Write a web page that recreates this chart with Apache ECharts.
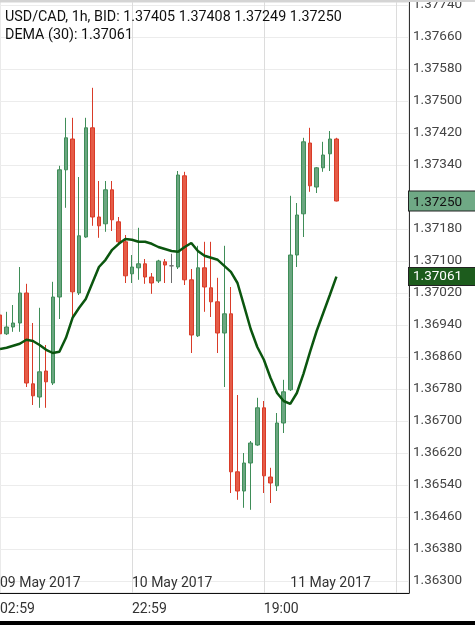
<!DOCTYPE html>
<html>
<head>
<meta charset="utf-8">
<script src="https://cdn.jsdelivr.net/npm/echarts@6/dist/echarts.min.js"></script>
<style>
  html, body { margin: 0; padding: 0; background: #fff; }
  #chart { width: 475px; height: 625px; }
</style>
</head>
<body>
<div id="chart"></div>
<script>
// hourly slots, the right end is left empty like the terminal does
const categories = [
  '02:59', '03:59', '04:59', '05:59', '06:59', '07:59', '08:59', '09:59', '10:59', '11:59',
  '12:59', '13:59', '14:59', '15:59', '16:59', '17:59', '18:59', '19:59', '20:59', '21:59',
  '22:59', '23:59', '00:59', '01:59', '02:59', '03:59', '04:59', '05:59', '06:59', '07:59',
  '08:59', '09:59', '10:59', '11:59', '12:59', '13:59', '14:59', '15:59', '16:59', '17:59',
  '19:00', '20:00', '21:00', '22:00', '23:00', '00:00', '01:00', '02:00', '03:00', '04:00',
  '05:00', '06:00', '07:00', '08:00', '09:00', '10:00', '11:00', '12:00', '13:00', '14:00',
  '15:00', '16:00', '17:00'
];

// [open, close, low, high]
const candles = [
  [1.36965, 1.36918, 1.36908, 1.36985],
  [1.36918, 1.36935, 1.36915, 1.36973],
  [1.36935, 1.36945, 1.36923, 1.36990],
  [1.36945, 1.37020, 1.36923, 1.37085],
  [1.37020, 1.36795, 1.36785, 1.37043],
  [1.36793, 1.36763, 1.36740, 1.36945],
  [1.36760, 1.36823, 1.36733, 1.36983],
  [1.36825, 1.36798, 1.36733, 1.36890],
  [1.36795, 1.37010, 1.36790, 1.37048],
  [1.37010, 1.37328, 1.36955, 1.37338],
  [1.37328, 1.37408, 1.37233, 1.37458],
  [1.37405, 1.37023, 1.36960, 1.37458],
  [1.37020, 1.37163, 1.37015, 1.37310],
  [1.37160, 1.37433, 1.37158, 1.37458],
  [1.37433, 1.37210, 1.37188, 1.37533],
  [1.37210, 1.37188, 1.37158, 1.37300],
  [1.37193, 1.37278, 1.37173, 1.37300],
  [1.37278, 1.37203, 1.37175, 1.37300],
  [1.37198, 1.37148, 1.37145, 1.37210],
  [1.37148, 1.37063, 1.37045, 1.37165],
  [1.37068, 1.37085, 1.37045, 1.37115],
  [1.37083, 1.37093, 1.37053, 1.37183],
  [1.37093, 1.37060, 1.37043, 1.37105],
  [1.37060, 1.37045, 1.37018, 1.37070],
  [1.37050, 1.37100, 1.37045, 1.37103],
  [1.37098, 1.37090, 1.37045, 1.37105],
  [1.37088, 1.37088, 1.37045, 1.37118],
  [1.37085, 1.37315, 1.37080, 1.37325],
  [1.37313, 1.37053, 1.37040, 1.37323],
  [1.37053, 1.36915, 1.36870, 1.37080],
  [1.36913, 1.37083, 1.36910, 1.37138],
  [1.37083, 1.37035, 1.36973, 1.37148],
  [1.37033, 1.36998, 1.36960, 1.37148],
  [1.36998, 1.36920, 1.36870, 1.37058],
  [1.36920, 1.36968, 1.36785, 1.37138],
  [1.36968, 1.36573, 1.36520, 1.37035],
  [1.36573, 1.36525, 1.36503, 1.36765],
  [1.36525, 1.36595, 1.36483, 1.36620],
  [1.36595, 1.36645, 1.36478, 1.36650],
  [1.36640, 1.36733, 1.36638, 1.36758],
  [1.36733, 1.36563, 1.36520, 1.36750],
  [1.36560, 1.36545, 1.36495, 1.36583],
  [1.36538, 1.36695, 1.36525, 1.36720],
  [1.36695, 1.36773, 1.36670, 1.36803],
  [1.36778, 1.37115, 1.36775, 1.37263],
  [1.37115, 1.37215, 1.37085, 1.37245],
  [1.37218, 1.37398, 1.37160, 1.37408],
  [1.37395, 1.37288, 1.37273, 1.37433],
  [1.37285, 1.37333, 1.37270, 1.37335],
  [1.37333, 1.37365, 1.37323, 1.37398],
  [1.37368, 1.37405, 1.37325, 1.37425],
  [1.37405, 1.37250, 1.37249, 1.37408]
];

const dema = [
  1.36880, 1.36883, 1.36888, 1.36893, 1.36903, 1.36900, 1.36890, 1.36878, 1.36870, 1.36873,
  1.36908, 1.36958, 1.36983, 1.37005, 1.37045, 1.37085, 1.37103, 1.37128, 1.37143, 1.37155,
  1.37153, 1.37148, 1.37148, 1.37143, 1.37135, 1.37130, 1.37125, 1.37123, 1.37135, 1.37145,
  1.37125, 1.37113, 1.37108, 1.37103, 1.37088, 1.37073, 1.37045, 1.36988, 1.36930, 1.36885,
  1.36853, 1.36808, 1.36770, 1.36750, 1.36743, 1.36770, 1.36818, 1.36873, 1.36925, 1.36970,
  1.37015, 1.37061
];

const priceTicks = [
  1.36300, 1.36380, 1.36460, 1.36540, 1.36620, 1.36700, 1.36780, 1.36860, 1.36940, 1.37020,
  1.37100, 1.37180, 1.37260, 1.37340, 1.37420, 1.37500, 1.37580, 1.37660, 1.37740
];
const timeTicks = { 0: '02:59', 20: '22:59', 40: '19:00' };
const dateTicks = { 0: '09 May 2017', 20: '10 May 2017', 44: '11 May 2017' };
const gridCols = [20, 40, 60];

const bidText = 'USD/CAD, 1h, BID: 1.37405 1.37408 1.37249 1.37250';
const demaText = 'DEMA (30): 1.37061';
const lastBid = 1.37250;
const lastDema = 1.37061;

const font = 'Roboto, "Noto Sans", sans-serif';
const yMin = 1.3627;
const yMax = 1.377475;

const boxStyle = (bg, fg, pad) => ({
  backgroundColor: bg,
  borderColor: '#222',
  borderWidth: 1,
  color: fg,
  fontSize: 13.5,
  fontFamily: font,
  padding: pad,
  width: 58,
  lineHeight: 14
});

const myChart = echarts.init(document.getElementById('chart'));
myChart.setOption({
  animation: false,
  textStyle: { fontFamily: font },
  title: {
    text: bidText + '\n' + demaText,
    left: 5,
    top: 8,
    padding: 0,
    textStyle: { fontSize: 14.3, fontWeight: 'normal', color: '#111', lineHeight: 18, fontFamily: font }
  },
  grid: {
    left: 0,
    right: 66,
    top: 2,
    bottom: 32,
    outerBoundsMode: 'none',
    containLabel: false,
    show: true,
    borderColor: '#d6d6d6',
    borderWidth: 1
  },
  xAxis: [
    {
      type: 'category',
      data: categories,
      boundaryGap: false,
      position: 'bottom',
      axisLine: { lineStyle: { color: '#111', width: 1 } },
      axisTick: { show: false },
      axisLabel: {
        interval: (i) => timeTicks[i] !== undefined,
        formatter: (v, i) => timeTicks[i] || '',
        align: 'left',
        margin: 9,
        color: '#333',
        fontSize: 14
      },
      splitLine: {
        show: true,
        interval: (i) => gridCols.includes(i),
        lineStyle: { color: '#dcdcdc', width: 1 }
      }
    },
    {
      type: 'category',
      data: categories,
      boundaryGap: false,
      position: 'bottom',
      axisLine: { show: false },
      axisTick: { show: false },
      splitLine: { show: false },
      axisLabel: {
        inside: true,
        interval: (i) => dateTicks[i] !== undefined,
        formatter: (v, i) => dateTicks[i] || '',
        align: 'left',
        margin: 3,
        color: '#333',
        fontSize: 14
      }
    }
  ],
  yAxis: [
    {
      type: 'value',
      position: 'right',
      min: yMin,
      max: yMax,
      axisLine: { show: true, lineStyle: { color: '#333', width: 1 } },
      axisTick: { show: false, customValues: priceTicks },
      axisLabel: {
        customValues: priceTicks,
        formatter: (v) => v.toFixed(5),
        color: '#444',
        fontSize: 13.5,
        margin: 4
      },
      splitLine: { show: true, lineStyle: { color: '#ececec', width: 1 } }
    },
    {
      // current price boxes
      type: 'value',
      position: 'right',
      min: yMin,
      max: yMax,
      z: 10,
      axisLine: { show: false },
      axisTick: { show: false, customValues: [lastDema, lastBid] },
      splitLine: { show: false },
      axisLabel: {
        customValues: [lastDema, lastBid],
        margin: 0,
        formatter: (v) => Math.abs(v - lastBid) < 1e-7
          ? '{bid|' + lastBid.toFixed(5) + '}'
          : '{dema|' + lastDema.toFixed(5) + '}',
        rich: {
          bid: boxStyle('#6fa985', '#111', [4, 4, 1, 4]),
          dema: boxStyle('#1d5c1d', '#fff', [2, 4, 1, 4])
        }
      }
    }
  ],
  series: [
    {
      type: 'candlestick',
      data: candles,
      barWidth: 4,
      itemStyle: {
        color: '#6aa680',
        color0: '#e55c47',
        borderColor: '#3f8d58',
        borderColor0: '#d93b28',
        borderColorDoji: '#6b6b6b',
        borderWidth: 1
      }
    },
    {
      type: 'line',
      data: dema,
      showSymbol: false,
      symbol: 'none',
      lineStyle: { color: '#0b560f', width: 2.5 }
    }
  ],
  graphic: [
    {
      type: 'rect',
      left: 0,
      top: 0,
      z: 100,
      shape: { width: 475, height: 2 },
      style: { fill: '#d4d4d4' }
    },
    {
      type: 'rect',
      left: 0,
      top: 621,
      shape: { width: 475, height: 4 },
      style: { fill: '#000' }
    }
  ]
});
</script>
</body>
</html>
